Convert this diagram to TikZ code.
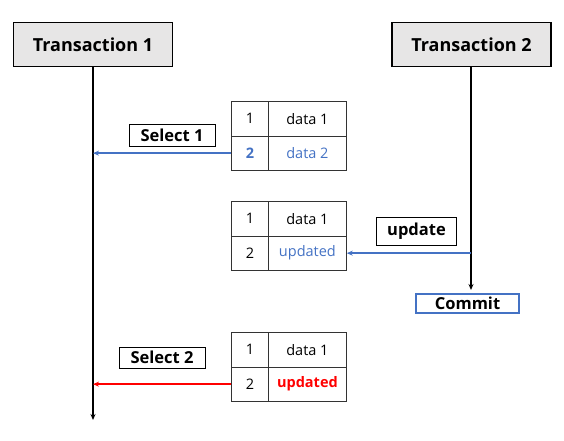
\documentclass[tikz,border=0pt]{standalone}
\usepackage{fontspec}
\setmainfont{Open Sans}
\usetikzlibrary{arrows.meta}

\definecolor{txblue}{HTML}{4472C4}
\definecolor{txgray}{HTML}{E7E6E6}

\tikzset{
  trans/.style={draw, line width=1.6pt, fill=txgray, minimum width=159pt, minimum height=44pt, font=\fontsize{18}{20}\selectfont\bfseries},
  label/.style={draw, line width=1pt, inner sep=0pt, font=\fontsize{16.5}{18}\selectfont\bfseries},
  cell/.style={draw=black!80, line width=0.8pt, anchor=north west, inner sep=0pt, minimum height=34.5pt, font=\fontsize{14.5}{16}\selectfont},
  life/.style={line width=1.4pt, -{Stealth[length=6pt,width=5pt]}},
  msg/.style={line width=1.4pt, -{Stealth[length=6pt,width=5pt]}}
}

\begin{document}
\begin{tikzpicture}[x=1pt,y=-1pt]
\useasboundingbox (0,0) rectangle (564,440);

% transactions and their lifelines
\node[trans] (t1) at (93,44.5) {Transaction 1};
\node[trans] (t2) at (471.5,44.5) {Transaction 2};
\coordinate (end1) at (93,420);
\coordinate (end2) at (471,290);
\draw[life] (t1.south -| end1) -- (end1);
\draw[life] (t2.south -| end2) -- (end2);

% tables, first row is the same in all three
\foreach \t/\y in {a/101,b/201,c/332}{
  \node[cell, minimum width=37pt] (\t11) at (231,\y) {1};
  \node[cell, minimum width=78pt] (\t12) at (268,\y) {data 1};
}
\node[cell, minimum width=37pt, text=txblue, font=\fontsize{14.5}{16}\selectfont\bfseries] (a21) at (231,135.5) {2};
\node[cell, minimum width=78pt, text=txblue] (a22) at (268,135.5) {data 2};
\node[cell, minimum width=37pt] (b21) at (231,235.5) {2};
\node[cell, minimum width=78pt, text=txblue] (b22) at (268,235.5) {updated};
\node[cell, minimum width=37pt] (c21) at (231,366.5) {2};
\node[cell, minimum width=78pt, text=red, font=\fontsize{14.5}{16}\selectfont\bfseries] (c22) at (268,366.5) {updated};

% messages
\node[label, minimum width=86pt, minimum height=22pt] (sel1) at (172,135.5) {Select 1};
\draw[msg, txblue] (a21.west) -- (a21.west -| end1);

\node[label, minimum width=80pt, minimum height=28pt] (upd) at (416.5,231) {update};
\draw[msg, txblue] (b22.east -| end2) -- (b22.east);
\node[label, draw=txblue, line width=1.4pt, minimum width=103pt, minimum height=19pt] (commit) at (467.5,303.5) {Commit};

\node[label, minimum width=86pt, minimum height=21pt] (sel2) at (162,357.5) {Select 2};
\draw[msg, red] (c21.west) -- (c21.west -| end1);
\end{tikzpicture}
\end{document}
